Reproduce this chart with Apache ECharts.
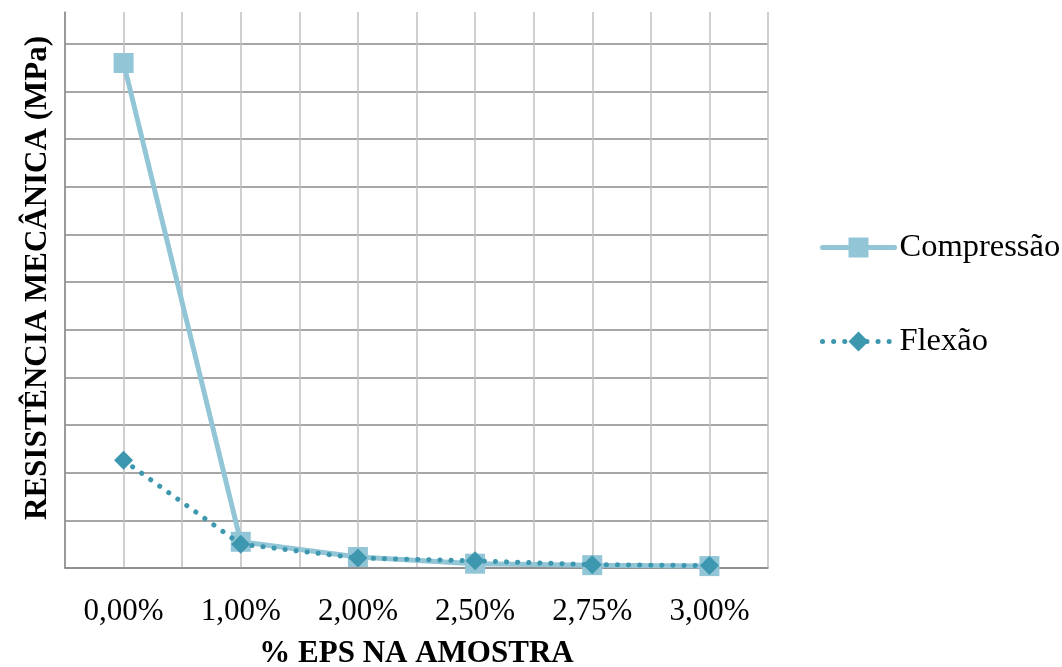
<!DOCTYPE html>
<html>
<head>
<meta charset="utf-8">
<script src="https://cdn.jsdelivr.net/npm/echarts@6/dist/echarts.min.js"></script>
<style>
  html, body { margin: 0; padding: 0; background: #fff; }
  #chart { width: 1062px; height: 667px; }
</style>
</head>
<body>
<div id="chart"></div>
<script>
// dados
var categorias = ['0,00%', '1,00%', '2,00%', '2,50%', '2,75%', '3,00%'];
var compressao = [10.6, 0.55, 0.23, 0.09, 0.06, 0.04];
var flexao = [2.26, 0.5, 0.21, 0.15, 0.07, 0.05];

var fonte = '"Liberation Serif", "Times New Roman", serif';
var chart = echarts.init(document.getElementById('chart'));

var option = {
  backgroundColor: '#fff',
  animation: false,
  grid: { left: 65, right: 294, top: 12, bottom: 99, outerBoundsMode: 'none' },
  legend: {
    orient: 'vertical',
    left: 815,
    top: 226,
    itemGap: 61,
    itemWidth: 72,
    itemHeight: 25,
    lineStyle: { width: 'inherit' },
    textStyle: { fontFamily: fonte, fontSize: 32.5, color: '#000' },
    data: ['Compressão', 'Flexão']
  },
  xAxis: [{
    type: 'category',
    data: categorias,
    boundaryGap: true,
    axisLine: { lineStyle: { color: '#898989', width: 1.5 } },
    axisTick: { show: false },
    splitLine: { show: false },
    axisLabel: { fontFamily: fonte, fontSize: 31, color: '#000', margin: 28 },
    name: '% EPS NA AMOSTRA',
    nameLocation: 'middle',
    nameGap: 70,
    nameTextStyle: { fontFamily: fonte, fontSize: 31, fontWeight: 'bold', color: '#000' }
  }, {
    // linhas verticais de meia categoria
    type: 'value',
    min: 0,
    max: 6,
    interval: 0.5,
    position: 'bottom',
    axisLine: { show: false },
    axisTick: { show: false },
    axisLabel: { show: false },
    splitLine: { show: true, lineStyle: { color: '#bfbfbf', width: 1.5 } }
  }],
  yAxis: {
    type: 'value',
    min: 0,
    max: 11.67,
    interval: 1,
    axisLine: { show: true, lineStyle: { color: '#898989', width: 1.5 } },
    axisTick: { show: false },
    axisLabel: { show: false },
    splitLine: { show: true, showMaxLine: false, lineStyle: { color: '#898989', width: 1.5 } },
    name: 'RESISTÊNCIA MECÂNICA (MPa)',
    nameLocation: 'middle',
    nameGap: 12,
    nameRotate: 90,
    nameTextStyle: { fontFamily: fonte, fontSize: 31, fontWeight: 'bold', color: '#000', padding: [0, 0, 0, 24] }
  },
  series: [{
    name: 'Compressão',
    type: 'line',
    data: compressao,
    symbol: 'rect',
    symbolSize: 20,
    z: 2,
    itemStyle: { color: '#92c5d6' },
    lineStyle: { color: '#92c5d6', width: 5, cap: 'round' }
  }, {
    name: 'Flexão',
    type: 'line',
    data: flexao,
    symbol: 'diamond',
    symbolSize: 19,
    z: 3,
    itemStyle: { color: '#3d97ae' },
    lineStyle: { color: '#3d97ae', width: 5, type: [0.1, 11], cap: 'round' }
  }]
};

chart.setOption(option);
</script>
</body>
</html>
